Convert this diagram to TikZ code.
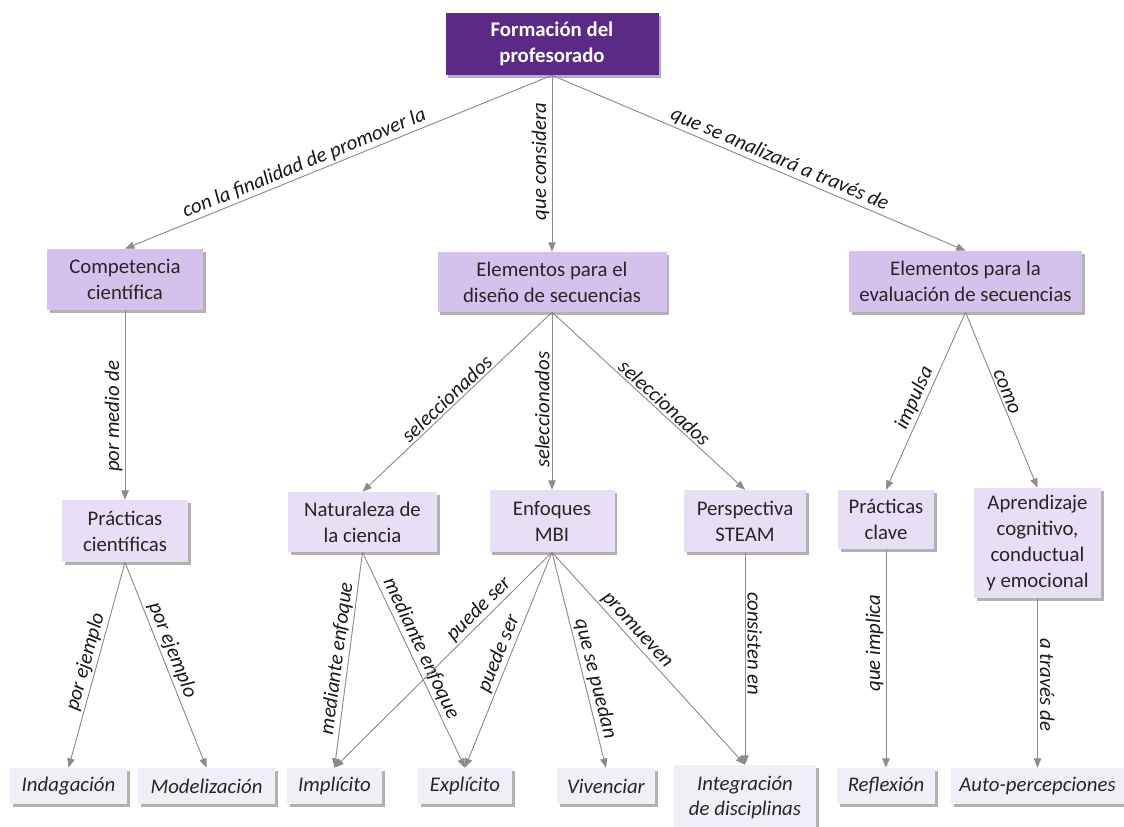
\documentclass[tikz,border=0pt]{standalone}
\usepackage{fontspec}
\setmainfont{Carlito}
\usetikzlibrary{arrows.meta,shadows}

\definecolor{profpurple}{HTML}{5B2A86}
\definecolor{lvlone}{HTML}{D5C2EC}
\definecolor{lvltwo}{HTML}{E8DEF5}
\definecolor{lvlthree}{HTML}{F2EEF8}
\definecolor{linkgray}{HTML}{8C8C8C}

\begin{document}
\begin{tikzpicture}[x=0.75pt,y=-0.75pt,
  every node/.style={font=\fontsize{15.6}{19.4}\selectfont},
  concept/.style={align=center, inner sep=0pt, text=black!85,
    drop shadow={shadow xshift=2pt, shadow yshift=-2pt, fill=black, opacity=0.3}},
  mainbox/.style={concept, fill=profpurple, text=white,
    font=\fontsize{15.6}{19.4}\selectfont\bfseries},
  topicbox/.style={concept, fill=lvlone},
  subbox/.style={concept, fill=lvltwo},
  leafbox/.style={concept, fill=lvlthree, minimum height=27pt,
    font=\fontsize{15.6}{19.4}\selectfont\itshape},
  link/.style={draw=linkgray, line width=0.7pt, -{Triangle[length=7pt,width=5.5pt]}},
  linklabel/.style={font=\fontsize{15.6}{19.4}\selectfont\itshape, inner sep=1.5pt, text=black!90}
]

\useasboundingbox (0,0) rectangle (1124,826);

% Main concept
\node[mainbox, minimum width=159.75pt, minimum height=46.5pt] (prof) at (552,44) {Formación del\\profesorado};

% Second level
\node[topicbox, minimum width=117pt, minimum height=45.75pt] (comp) at (125,279.5) {Competencia\\científica};
\node[topicbox, minimum width=171.75pt, minimum height=45pt] (disen) at (552,282) {Elementos para el\\diseño de secuencias};
\node[topicbox, minimum width=174.75pt, minimum height=45.75pt] (eval) at (965.5,281.5) {Elementos para la\\evaluación de secuencias};

% Third level
\node[subbox, minimum width=94.5pt, minimum height=46.5pt] (pcien) at (125,531) {Prácticas\\científicas};
\node[subbox, minimum width=111.75pt, minimum height=45pt] (natu) at (362.5,522) {Naturaleza de\\la ciencia};
\node[subbox, minimum width=93.75pt, minimum height=46.5pt] (enfo) at (552,521) {Enfoques\\MBI};
\node[subbox, minimum width=91.5pt, minimum height=46.5pt] (steam) at (745,521) {Perspectiva\\STEAM};
\node[subbox, minimum width=72pt, minimum height=44.25pt] (pclave) at (886,519.5) {Prácticas\\clave};
\node[subbox, minimum width=95.25pt, minimum height=82.5pt] (apren) at (1037.5,543) {Aprendizaje\\cognitivo,\\conductual\\y emocional};

% Bottom row
\node[leafbox, minimum width=87.75pt] (inda) at (68.5,786) {Indagación};
\node[leafbox, minimum width=102.75pt] (mode) at (206.5,786) {Modelización};
\node[leafbox, minimum width=71.25pt] (impl) at (334.5,786) {Implícito};
\node[leafbox, minimum width=70.5pt] (expl) at (465,786) {Explícito};
\node[leafbox, minimum width=73.5pt] (vive) at (606,786) {Vivenciar};
\node[leafbox, minimum width=106.5pt, minimum height=48.75pt] (integ) at (745,797.5) {Integración\\de disciplinas};
\node[leafbox, minimum width=73.5pt] (refl) at (886,786) {Reflexión};
\node[leafbox, minimum width=129.75pt] (auto) at (1037.5,786) {Auto-percepciones};

% Links from the main concept
\draw[link] (prof.south) -- (comp.north) node[linklabel, pos=0.57, sloped, above] {con la finalidad de promover la};
\draw[link] (prof.south) -- (disen.north) node[linklabel, pos=0.49, rotate=90, anchor=south] {que considera};
\draw[link] (prof.south) -- (eval.north) node[linklabel, pos=0.54, sloped, above] {que se analizará a través de};

% Competencia
\draw[link] (comp.south) -- (pcien.north) node[linklabel, pos=0.56, rotate=90, anchor=south] {por medio de};
\draw[link] (pcien.south) -- (inda.north) node[linklabel, pos=0.5, sloped, above] {por ejemplo};
\draw[link] (pcien.south) -- (mode.north) node[linklabel, pos=0.45, sloped, above] {por ejemplo};

% Diseño de secuencias
\draw[link] (disen.south) -- (natu.north) node[linklabel, pos=0.52, sloped, above] {seleccionados};
\draw[link] (disen.south) -- (enfo.north) node[linklabel, pos=0.55, rotate=90, anchor=south] {seleccionados};
\draw[link] (disen.south) -- (steam.north) node[linklabel, pos=0.55, sloped, above] {seleccionados};

\draw[link] (natu.south) -- (impl.north) node[linklabel, pos=0.5, sloped, above] {mediante enfoque};
\draw[link] (natu.south) -- (expl.north) node[linklabel, pos=0.47, sloped, above] {mediante enfoque};

\draw[link] (enfo.south) -- (impl.north) node[linklabel, pos=0.3, sloped, above] {puede ser};
\draw[link] (enfo.south) -- (expl.north) node[linklabel, pos=0.49, sloped, above] {puede ser};
\draw[link] (enfo.south) -- (vive.north) node[linklabel, pos=0.6, sloped, above] {que se puedan};
\draw[link] (enfo.south) -- (integ.north) node[linklabel, pos=0.4, sloped, above] {promueven};

\draw[link] (steam.south) -- (integ.north) node[linklabel, pos=0.43, rotate=-90, anchor=south] {consisten en};

% Evaluación de secuencias
\draw[link] (eval.south) -- (pclave.north) node[linklabel, pos=0.51, sloped, above] {impulsa};
\draw[link] (eval.south) -- (apren.north) node[linklabel, pos=0.47, sloped, above] {como};

\draw[link] (pclave.south) -- (refl.north) node[linklabel, pos=0.43, rotate=90, anchor=south] {que implica};
\draw[link] (apren.south) -- (auto.north) node[linklabel, pos=0.51, rotate=-90, anchor=south] {a través de};

\end{tikzpicture}
\end{document}
